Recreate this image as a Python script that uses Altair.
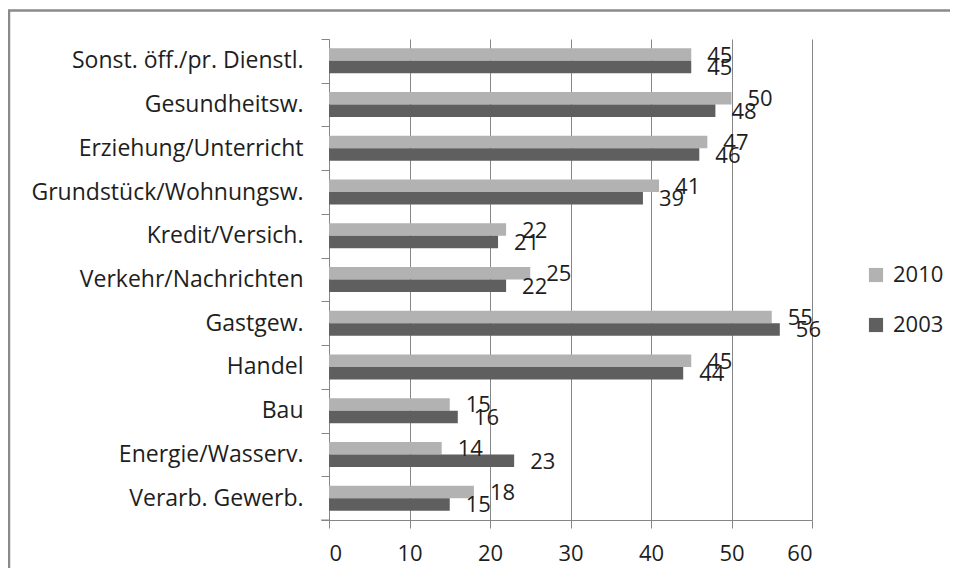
import altair as alt
import pandas as pd

categories = [
    "Sonst. öff./pr. Dienstl.",
    "Gesundheitsw.",
    "Erziehung/Unterricht",
    "Grundstück/Wohnungsw.",
    "Kredit/Versich.",
    "Verkehr/Nachrichten",
    "Gastgew.",
    "Handel",
    "Bau",
    "Energie/Wasserv.",
    "Verarb. Gewerb.",
]
values_2010 = [45, 50, 47, 41, 22, 25, 55, 45, 15, 14, 18]
values_2003 = [45, 48, 46, 39, 21, 22, 56, 44, 16, 23, 15]
series = ["2010", "2003"]
x_ticks = [0, 10, 20, 30, 40, 50, 60]

rows = []
for c, a, b in zip(categories, values_2010, values_2003):
    rows.append({"Branche": c, "Jahr": "2010", "Wert": a})
    rows.append({"Branche": c, "Jahr": "2003", "Wert": b})
df = pd.DataFrame(rows)

FONT = "Open Sans"
GRID = "#868686"
TXT = "#1e1e1e"
W, H = 483, 481

y_enc = alt.Y("Branche:N", sort=categories,
              scale=alt.Scale(paddingInner=0, paddingOuter=0),
              axis=alt.Axis(title=None, tickBand="extent", tickSize=8,
                            tickColor=GRID, domainColor=GRID, labelPadding=18,
                            labelFont=FONT, labelFontSize=23, labelColor=TXT,
                            labelLimit=400))
yoff = alt.YOffset("Jahr:N", sort=series,
                   scale=alt.Scale(paddingInner=0, paddingOuter=0.75))
x_enc = alt.X("Wert:Q", scale=alt.Scale(domain=[0, 60], nice=False),
              axis=alt.Axis(title=None, values=x_ticks, tickSize=8, tickColor=GRID,
                            domainColor=GRID, gridColor=GRID, grid=True,
                            labelFont=FONT, labelFontSize=22, labelColor=TXT,
                            labelPadding=15))

bars = alt.Chart(df).mark_bar().encode(
    x=x_enc, y=y_enc, yOffset=yoff,
    color=alt.Color("Jahr:N", sort=series,
                    scale=alt.Scale(domain=series, range=["#b2b2b2", "#5f5f5f"]),
                    legend=alt.Legend(title=None, orient="none", legendX=536, legendY=225,
                                      symbolType="square", symbolSize=200,
                                      symbolStrokeWidth=0, labelFont=FONT,
                                      labelFontSize=22, labelColor=TXT,
                                      rowPadding=28, labelOffset=6)),
)

labels = alt.Chart(df).mark_text(
    align="left", baseline="middle", dx=16, dy=1, font=FONT, fontSize=22, color=TXT
).encode(x="Wert:Q", y=alt.Y("Branche:N", sort=categories),
         yOffset=alt.YOffset("Jahr:N", sort=series), text="Wert:Q")

frame = alt.Chart(pd.DataFrame({"a": [0]})).mark_rect(
    filled=False, stroke="#8a8a8a", strokeWidth=2.5
).encode(x=alt.value(-320), x2=alt.value(W + 300), y=alt.value(-28.5), y2=alt.value(H + 200))

bottom_tick = alt.Chart(pd.DataFrame({"a": [0]})).mark_rule(color=GRID).encode(
    x=alt.value(-8), x2=alt.value(0), y=alt.value(H), y2=alt.value(H))

chart = alt.layer(frame, bars, labels, bottom_tick).properties(
    width=W, height=H,
    autosize=alt.AutoSizeParams(type="none"),
    padding={"left": 321, "top": 31, "right": 138, "bottom": 48},
).configure_view(stroke=None)

chart.save("out.html", embed_options={"renderer": "svg", "actions": False})
